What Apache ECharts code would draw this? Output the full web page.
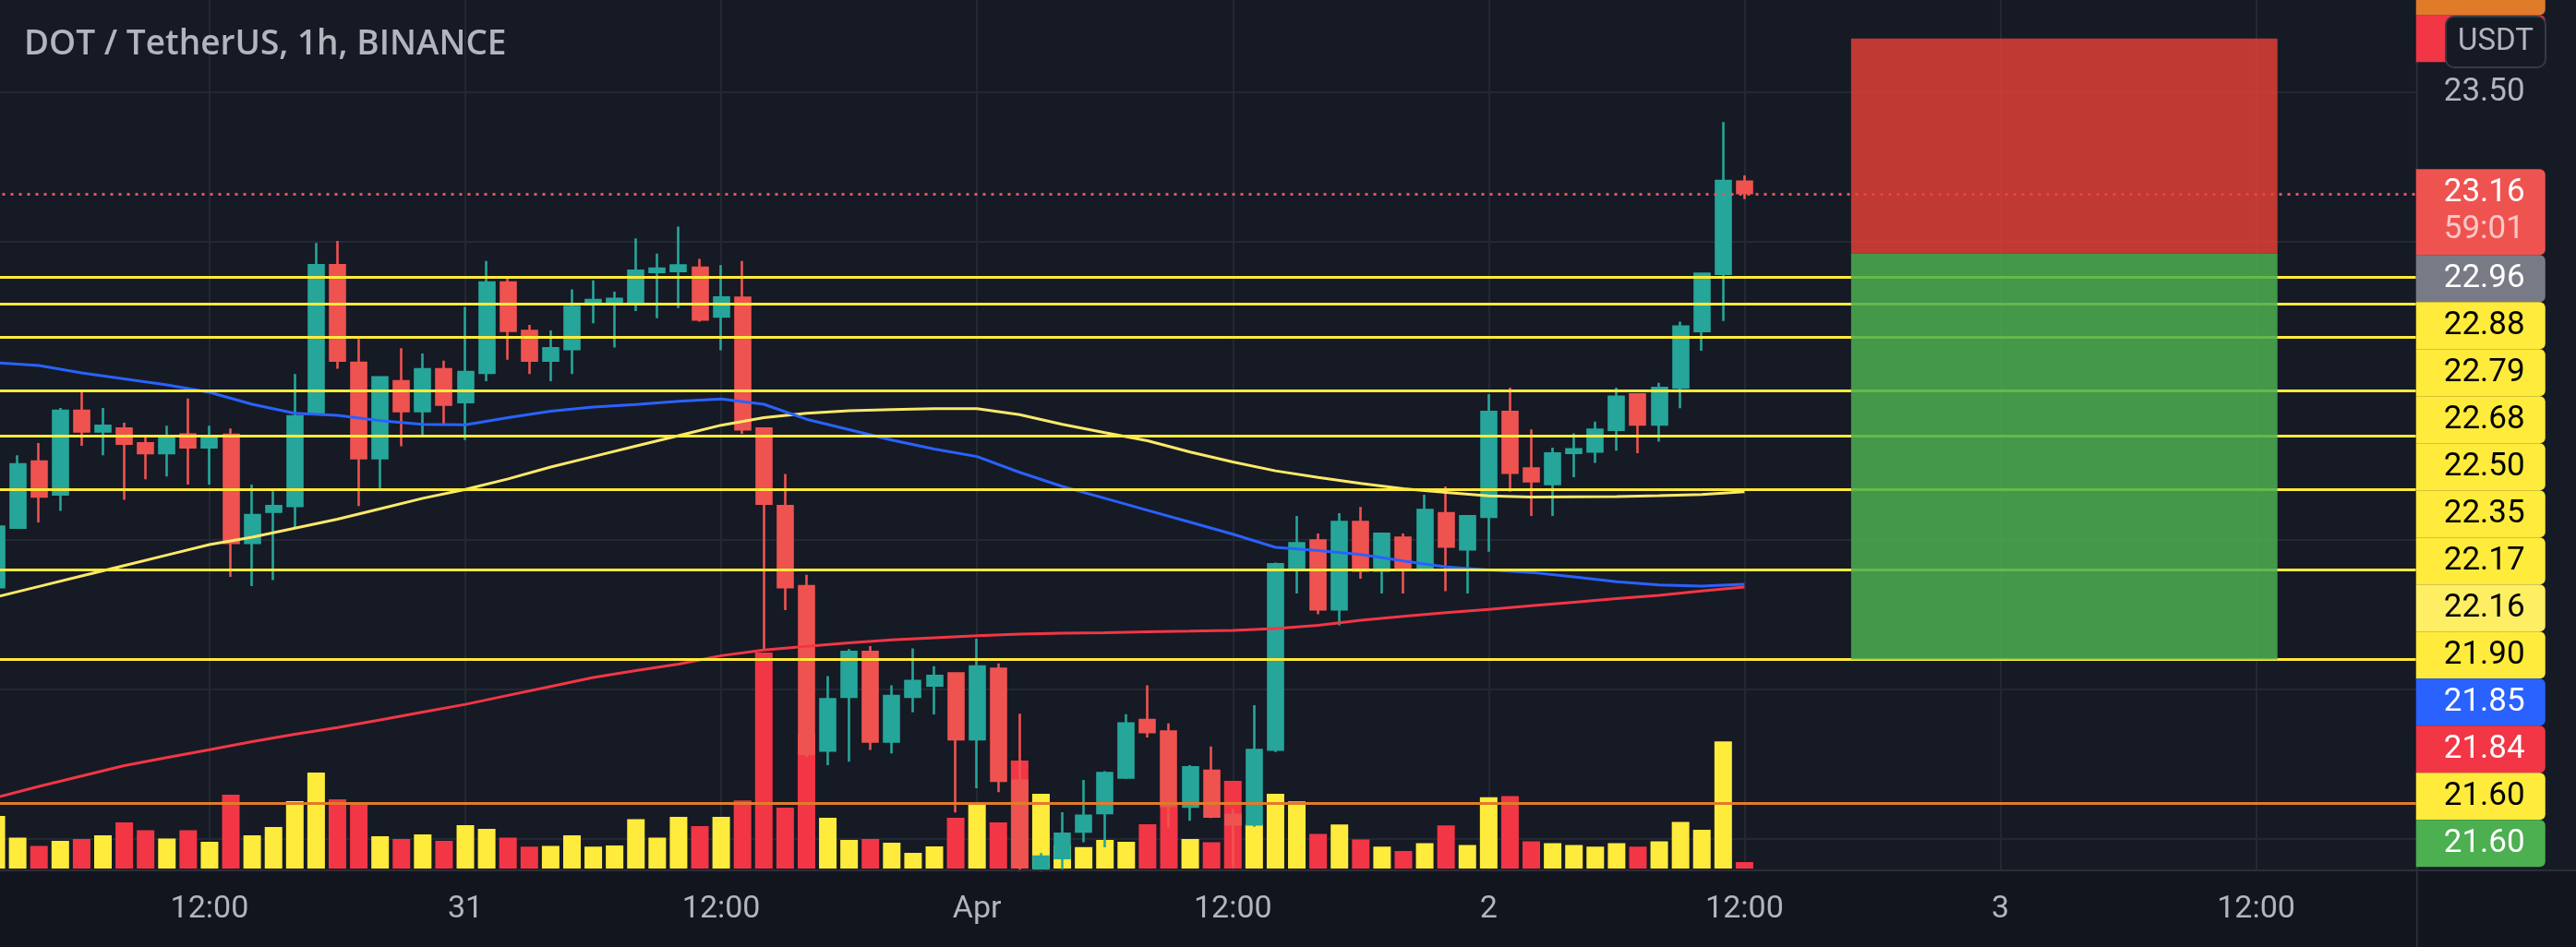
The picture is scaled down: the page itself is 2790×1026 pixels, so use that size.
<!DOCTYPE html>
<html><head><meta charset="utf-8">
<script src="https://cdn.jsdelivr.net/npm/echarts/dist/echarts.min.js"></script>
<style>html,body{margin:0;padding:0;background:#161a25;overflow:hidden}#c{width:2790px;height:1026px}</style>
</head><body><div id="c"></div>
<script>
// ---------------- DATA ----------------
const titleText = 'DOT / TetherUS, 1h, BINANCE';
const startTime = Date.UTC(2022, 2, 30, 2);   // first hourly candle: Mar 30 02:00
const categoryCount = 114;                    // hourly slots shown on the time axis
const monthNames = ['Jan','Feb','Mar','Apr','May','Jun','Jul','Aug','Sep','Oct','Nov','Dec'];

const opens = [21.842,22.042,22.263,22.153,22.433,22.364,22.374,22.324,22.291,22.354,22.311,22.353,21.991,22.095,22.114,22.422,22.921,22.594,22.274,22.532,22.432,22.572,
 22.462,22.56,22.863,22.701,22.601,22.64,22.79,22.794,22.79,22.898,22.901,22.912,22.749,22.812,22.374,22.114,21.846,21.295,21.475,21.626,21.325,21.475,21.513,21.554,
 21.333,21.569,21.194,20.90,20.935,21.024,21.086,21.205,21.398,21.359,21.107,21.228,21.079,21.048,21.298,21.907,21.999,21.768,22.061,21.898,22.008,21.907,22.09,21.969,
 22.078,22.429,22.24,22.188,22.292,22.297,22.369,22.488,22.387,22.511,22.70,22.892,23.201];
const closes = [22.045,22.254,22.146,22.433,22.364,22.383,22.323,22.291,22.343,22.311,22.343,21.991,22.084,22.114,22.415,22.921,22.601,22.274,22.545,22.432,22.572,22.454,
 22.563,22.863,22.701,22.601,22.643,22.781,22.804,22.808,22.902,22.909,22.92,22.739,22.813,22.371,22.122,21.842,21.284,21.467,21.626,21.325,21.478,21.528,21.545,21.333,
 21.577,21.194,20.905,20.94,21.017,21.077,21.22,21.386,21.357,21.11,21.239,21.074,21.048,21.297,21.919,21.99,21.768,22.061,21.898,22.021,21.907,22.101,21.978,22.08,
 22.429,22.226,22.197,22.29,22.304,22.37,22.48,22.387,22.51,22.715,22.892,23.203,23.162];
const lows = [21.76,22.04,22.059,22.098,22.316,22.284,22.135,22.204,22.213,22.186,22.186,21.877,21.846,21.866,22.042,22.42,22.574,22.114,22.173,22.314,22.346,22.385,
 22.335,22.532,22.604,22.556,22.532,22.556,22.726,22.645,22.767,22.743,22.777,22.732,22.636,22.356,21.635,21.766,21.274,21.246,21.258,21.297,21.286,21.423,21.416,21.088,
 21.169,21.156,20.89,20.89,20.898,20.988,20.971,21.2,21.339,21.038,21.06,21.069,20.905,21.04,21.29,21.821,21.752,21.715,21.871,21.821,21.821,21.907,21.829,21.821,
 21.961,22.162,22.081,22.081,22.211,22.259,22.30,22.291,22.33,22.442,22.634,22.734,23.142];
const highs = [22.132,22.284,22.325,22.443,22.495,22.443,22.393,22.353,22.383,22.474,22.383,22.374,22.186,22.164,22.556,22.995,23.002,22.674,22.545,22.643,22.625,22.601,
 22.781,22.935,22.88,22.721,22.702,22.84,22.87,22.832,23.011,22.96,23.05,22.942,22.921,22.935,22.374,22.222,21.884,21.545,21.635,21.645,21.514,21.637,21.578,21.554,
 21.67,21.587,21.419,20.952,21.089,21.197,21.226,21.417,21.514,21.386,21.246,21.309,21.10,21.447,21.925,22.081,22.022,22.09,22.111,22.021,22.022,22.152,22.18,22.08,
 22.489,22.511,22.371,22.31,22.358,22.397,22.511,22.488,22.527,22.732,22.892,23.4,23.222];
const volumes = [228,134,98,120,128,144,200,166,130,166,116,320,144,180,292,416,300,282,140,128,148,120,
 188,172,134,95,98,144,95,100,214,134,224,184,224,295,936,264,584,220,124,128,112,68,96,220,
 276,200,468,324,100,93,124,116,192,276,128,114,380,190,324,291,150,191,126,95,76,110,187,102,
 309,314,118,110,102,95,110,95,118,202,168,551,28];

// moving averages, read every second candle (first candle, then every 2 hours)
const maYellow = [21.81,21.845,21.88,21.915,21.95,21.985,22.01,22.04,22.07,22.105,22.14,22.17,22.205,22.245,22.28,22.315,
 22.35,22.385,22.41,22.425,22.433,22.437,22.44,22.44,22.42,22.388,22.36,22.333,22.295,22.262,22.232,
 22.21,22.19,22.172,22.16,22.148,22.144,22.145,22.146,22.149,22.153,22.162];
const maBlue = [22.594,22.585,22.56,22.54,22.52,22.495,22.455,22.425,22.418,22.40,22.388,22.386,22.41,22.432,22.446,22.454,
 22.465,22.473,22.455,22.405,22.37,22.335,22.305,22.28,22.227,22.18,22.14,22.10,22.06,22.02,21.976,
 21.965,21.952,21.93,21.91,21.90,21.892,21.877,21.861,21.85,21.846,21.852];
const maRed = [21.138,21.175,21.21,21.245,21.272,21.298,21.325,21.35,21.372,21.398,21.424,21.45,21.48,21.51,21.54,21.563,
 21.585,21.613,21.632,21.644,21.656,21.666,21.673,21.68,21.685,21.688,21.69,21.693,21.695,21.698,21.704,
 21.715,21.732,21.745,21.757,21.768,21.78,21.792,21.804,21.815,21.83,21.843];

const levels = [22.88, 22.79, 22.68, 22.50, 22.35, 22.17, 21.90, 21.60];
const orangeLevel = 21.12;
const gridPrices = [21.0, 21.5, 22.0, 22.5, 23.0, 23.5];
const axisTickLabels = [23.5];
const positionEntry = 22.96, positionStop = 23.68, positionTarget = 21.60;
const positionStartIdx = 87, positionEndIdx = 107;   // Apr 2 17:00 -> Apr 3 13:00
const hiddenTopLabel = 23.83;
const countdownText = '59:01';
const priceMin = 20.897, priceMax = 23.809;

// ---------------- BUILD ----------------
const pad = n => String(n).padStart(2, '0');
const categories = [];
for (let i = 0; i < categoryCount; i++) {
  const d = new Date(startTime + i * 3600000);
  categories.push(pad(d.getUTCMonth() + 1) + '-' + pad(d.getUTCDate()) + ' ' + pad(d.getUTCHours()) + ':00');
}
function tickLabel(cat) {
  const hh = cat.slice(6, 8), mon = +cat.slice(0, 2), day = +cat.slice(3, 5);
  if (hh === '12') return '12:00';
  if (hh === '00') return day === 1 ? monthNames[mon - 1] : String(day);
  return '';
}
const candleData = opens.map((o, i) => [o, closes[i], lows[i], highs[i]]);
const volData = volumes.map((v, i) => ({ value: v, itemStyle: { color: closes[i] >= opens[i] ? '#ffeb3b' : '#f23645' } }));
const maPairs = arr => arr.map((v, i) => [categories[i * 2], v]);

const GRID_LEFT = -15.5, CAT_W = 23.09, GRID_W = CAT_W * categoryCount, PLOT_H = 942;
const PLOT_R = GRID_LEFT + GRID_W;

const BG = '#161a25', TXT = '#b2b5be', GRIDC = '#242833';
const chart = echarts.init(document.getElementById('c'), null, { renderer: 'canvas' });

const option = {
  backgroundColor: BG,
  animation: false,
  grid: [
    { left: GRID_LEFT, top: 0, width: GRID_W, height: PLOT_H, outerBoundsMode: 'none', containLabel: false },
    { left: GRID_LEFT, top: PLOT_H - 301, width: GRID_W, height: 300, outerBoundsMode: 'none', containLabel: false }
  ],
  xAxis: [
    { type: 'category', gridIndex: 0, data: categories, boundaryGap: true,
      axisLine: { show: false }, axisTick: { show: false }, splitLine: { show: false },
      axisLabel: { color: TXT, fontSize: 34, fontFamily: 'Roboto', margin: 26,
        interval: (i, v) => tickLabel(v) !== '', formatter: v => tickLabel(v) } },
    { type: 'category', gridIndex: 1, data: categories, boundaryGap: true, show: false }
  ],
  yAxis: [
    { type: 'value', gridIndex: 0, min: priceMin, max: priceMax, position: 'right', show: false, splitLine: { show: false } },
    { type: 'value', gridIndex: 1, min: 0, max: 1200, show: false, splitLine: { show: false } }
  ],
  series: [
    { name: 'grid', type: 'line', data: [], z: 1, silent: true,
      markLine: { silent: true, symbol: 'none', label: { show: false }, z: 1,
        lineStyle: { color: GRIDC, width: 2, type: 'solid' },
        data: gridPrices.map(p => ({ yAxis: p })).concat(categories.filter(c => tickLabel(c) !== '').map(c => ({ xAxis: c }))) } },
    { name: 'Volume', type: 'bar', xAxisIndex: 1, yAxisIndex: 1, data: volData, barWidth: 19, z: 2, silent: true },
    { name: 'DOT', type: 'candlestick', data: candleData, barWidth: 16.5, z: 3, silent: true,
      itemStyle: { color: '#26a69a', color0: '#ef5350', borderColor: '#26a69a', borderColor0: '#ef5350', borderWidth: 2.6 } },
    { name: 'MA red', type: 'line', data: maPairs(maRed), showSymbol: false, z: 4, silent: true, lineStyle: { color: '#f23645', width: 3 } },
    { name: 'MA yellow', type: 'line', data: maPairs(maYellow), showSymbol: false, z: 4, silent: true, lineStyle: { color: '#fbe96a', width: 3 } },
    { name: 'MA blue', type: 'line', data: maPairs(maBlue), showSymbol: false, z: 4, silent: true, lineStyle: { color: '#2962ff', width: 3 } },
    { name: 'levels', type: 'line', data: [], z: 5, silent: true,
      markLine: { silent: true, symbol: 'none', label: { show: false }, z: 5,
        data: levels.map(p => ({ yAxis: p, lineStyle: { color: '#ffeb3b', width: 3, type: 'solid' } }))
          .concat([{ yAxis: orangeLevel, lineStyle: { color: '#e07b2a', width: 3, type: 'solid' } },
                   { yAxis: closes[closes.length - 1], lineStyle: { color: '#ef5350', width: 3, type: [3, 6] } }]) } },
    { name: 'position', type: 'line', data: [], z: 6, silent: true,
      markArea: { silent: true, z: 6,
        data: [
          [{ xAxis: categories[positionStartIdx], yAxis: positionStop, itemStyle: { color: 'rgba(235,65,55,0.8)' } }, { xAxis: categories[positionEndIdx], yAxis: positionEntry }],
          [{ xAxis: categories[positionStartIdx], yAxis: positionEntry, itemStyle: { color: 'rgba(76,175,80,0.85)' } }, { xAxis: categories[positionEndIdx], yAxis: positionTarget }]
        ] } }
  ]
};
chart.setOption(option);

// ---------------- right price-scale labels ----------------
const yPix = p => chart.convertToPixel({ yAxisIndex: 0 }, p);
const LH = 51, LW = 140, FONT = '35px Roboto';
const lastPrice = closes[closes.length - 1];
const g = [];
g.push({ type: 'rect', z: -10, shape: { x: 0, y: PLOT_H, width: 2790, height: 1026 - PLOT_H }, style: { fill: '#12151e' } });
g.push({ type: 'rect', z: 50, shape: { x: PLOT_R, y: 0, width: 2, height: 1026 }, style: { fill: '#2a2e39' } });
g.push({ type: 'rect', z: 50, shape: { x: 0, y: PLOT_H, width: 2790, height: 2 }, style: { fill: '#2a2e39' } });
g.push({ type: 'text', z: 60, style: { x: 26, y: 48, text: titleText, fill: TXT, font: '600 37px "Open Sans"', verticalAlign: 'middle' } });
axisTickLabels.forEach(p => g.push({ type: 'text', z: 60, style: { x: PLOT_R + 30, y: yPix(p), text: p.toFixed(2), fill: TXT, font: FONT, verticalAlign: 'middle' } }));

function addLabel(top, h, bg, fg, text, sub) {
  g.push({ type: 'rect', z: 70, shape: { x: PLOT_R, y: top, width: LW, height: h, r: [0, 6, 6, 0] }, style: { fill: bg } });
  g.push({ type: 'text', z: 71, style: { x: PLOT_R + 30, y: top + 26, text: text, fill: fg, font: FONT, verticalAlign: 'middle' } });
  if (sub) g.push({ type: 'text', z: 71, style: { x: PLOT_R + 30, y: top + 66, text: sub, fill: 'rgba(255,255,255,0.68)', font: FONT, verticalAlign: 'middle' } });
}
// last price label (anchor)
const lastTop = yPix(lastPrice) - 26, lastH = 93;
// labels below, pushed downward
const below = [
  { p: positionEntry, bg: '#787b86', fg: '#ffffff' },
  ...levels.map(p => ({ p, bg: '#ffeb3b', fg: '#000000' })),
  { p: maYellow[maYellow.length - 1], bg: '#fdee64', fg: '#000000' },
  { p: maBlue[maBlue.length - 1], bg: '#2962ff', fg: '#ffffff' },
  { p: maRed[maRed.length - 1], bg: '#f23645', fg: '#ffffff' },
  { p: positionTarget, bg: '#4caf50', fg: '#ffffff' }
].sort((a, b) => b.p - a.p);
let prevBottom = lastTop + lastH;
below.forEach(l => {
  const top = Math.max(yPix(l.p) - LH / 2, prevBottom);
  addLabel(top, LH, l.bg, l.fg, l.p.toFixed(2));
  prevBottom = top + LH;
});
// labels above, pushed upward
const above = [{ p: positionStop, bg: '#f23645', fg: '#ffffff' }, { p: hiddenTopLabel, bg: '#e07b2a', fg: '#ffffff' }];
let prevTop = lastTop;
above.forEach(l => {
  const bottom = Math.min(yPix(l.p) + LH / 2, prevTop);
  addLabel(bottom - LH, LH, l.bg, l.fg, l.p.toFixed(2));
  prevTop = bottom - LH;
});
addLabel(lastTop, lastH, '#ef5350', '#ffffff', lastPrice.toFixed(2), countdownText);
// currency button
g.push({ type: 'rect', z: 80, shape: { x: 2649, y: 18, width: 108, height: 55, r: 9 }, style: { fill: BG, stroke: '#363a45', lineWidth: 2 } });
g.push({ type: 'text', z: 81, style: { x: 2703, y: 46, text: 'USDT', fill: TXT, font: '33px Roboto', align: 'center', verticalAlign: 'middle' } });

chart.setOption({ graphic: { elements: g } });
</script></body></html>
